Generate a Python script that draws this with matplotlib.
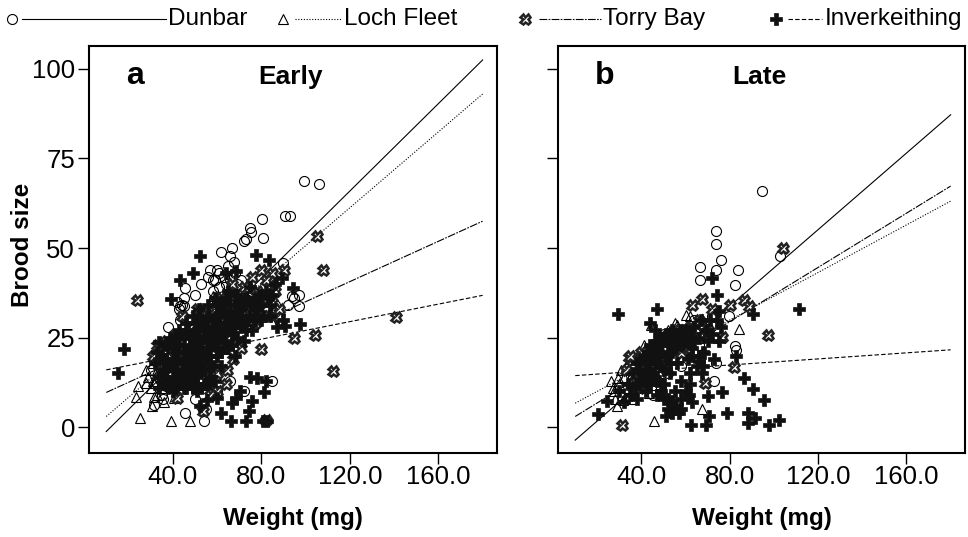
import matplotlib
matplotlib.use("Agg")
import matplotlib.pyplot as plt
from matplotlib.lines import Line2D

plt.rcParams['font.family'] = ['Liberation Sans', 'DejaVu Sans']

sites = ["Dunbar", "Loch Fleet", "Torry Bay", "Inverkeithing"]

# ---------------- Early (panel a) ----------------
early_dunbar_x = [99.5, 105.9, 90.7, 92.8, 80.3, 75.1, 75.6, 73.2, 72.0, 80.9, 62.0, 66.8, 65.7, 67.5, 59.8, 61.0, 58.3, 45.6, 44.9, 43.4, 89.8, 94.0, 97.0, 85.0, 84.8, 54.1, 45.4, 35.7, 31.5, 43.4,
                  30, 33, 35, 37, 38, 40, 42, 43, 44, 45, 46, 47, 48, 50, 52, 53, 55, 56, 57, 58, 59, 60, 61, 63, 64, 65, 66, 67, 68, 69, 70, 71, 72, 74, 75, 76, 78, 80, 82, 84, 86, 88, 92, 95, 97, 50, 55, 60, 66, 72]
early_dunbar_y = [68.8, 67.8, 59.0, 59.0, 58.0, 55.7, 54.5, 52.6, 52.0, 52.9, 49.0, 49.9, 47.8, 46.1, 44.0, 43.1, 41.0, 38.9, 33.8, 33.8, 45.9, 36.6, 33.8, 31.9, 12.8, 1.6, 3.9, 7.8, 6.3, 30.0,
                  16, 12, 9, 14, 28, 20, 35, 33, 34, 36, 26, 12, 30, 37, 22, 40, 32, 42, 44, 38, 41, 35, 39, 42, 40, 45, 41, 38, 43, 40, 37, 41, 36, 39, 33, 38, 35, 37, 33, 36, 34, 30, 34, 36, 37, 8, 5, 10, 13, 10]

early_loch_x = [58.3, 25.3, 39.4, 47.9, 23.3, 24.5, 28.1, 31.5, 30.7, 31.5, 39.0, 40.4,
                29, 30, 31, 32, 33, 34, 35, 36, 37, 38, 39, 40, 41, 42, 43, 44, 45, 46, 47, 48, 49, 50, 52, 53, 55, 57, 58, 60, 62, 64, 66, 68, 70, 72, 31, 28, 33, 36]
early_loch_y = [36.6, 2.5, 1.6, 1.6, 8.4, 11.4, 12.3, 8.4, 5.8, 12.3, 24.4, 8.1,
                14, 11, 18, 13, 16, 19, 11, 22, 15, 20, 24, 17, 13, 22, 26, 16, 20, 24, 14, 27, 19, 22, 17, 26, 21, 24, 19, 28, 22, 26, 30, 24, 33, 28, 13, 16, 9, 7]

early_torry_x = [24.1, 105.1, 107.8, 112.4, 141.1, 104.1, 94.6, 90.3, 79.9, 84.8, 85.8, 79.9, 88.0, 64.7, 67.2, 42.0, 59.8, 53.8, 82.1,
                 31, 33, 35, 37, 39, 41, 43, 44, 46, 48, 50, 51, 53, 55, 56, 58, 59, 61, 62, 63, 65, 66, 67, 68, 70, 71, 72, 73, 75, 76, 77, 78, 79, 81, 82, 83, 85, 86, 88, 44, 48, 55, 60, 64, 57]
early_torry_y = [35.6, 53.5, 43.8, 15.8, 30.8, 25.7, 24.8, 43.8, 44.0, 43.1, 39.4, 21.8, 31.0, 16.0, 19.0, 8.1, 10.0, 4.4, 1.9,
                 20, 23, 17, 24, 15, 26, 19, 31, 22, 28, 24, 33, 19, 31, 23, 27, 33, 22, 36, 29, 25, 33, 40, 28, 35, 22, 39, 31, 34, 42, 29, 38, 33, 36, 41, 31, 35, 38, 33, 13, 16, 16, 15, 12, 9]

early_inv_x = [15.2, 17.8, 52.3, 49.1, 43.4, 39.4, 33.8, 77.6, 83.3, 89.5, 94.3, 97.7, 90.7, 77.9, 82.1, 74.9, 81.3, 70.2, 68.8, 67.0, 76.0, 74.5, 62.0, 66.2, 73.2, 80.8, 82.5, 55.3, 59.8, 52.3, 64.2, 68.7,
               32, 34, 35, 36, 37, 38, 38, 39, 40, 40, 41, 42, 42, 43, 43, 44, 45, 45, 46, 46, 47, 47, 48, 48, 49, 49, 50, 50, 51, 51, 52, 52, 53, 53, 54, 54, 55, 56, 56, 57, 57, 58, 58, 59, 60, 60, 61, 62, 62, 63, 64, 64, 65, 66, 67, 68, 68, 69, 70, 71, 72, 73, 74, 75, 76, 77, 78, 80, 82, 84, 86, 87, 90,
               33, 35, 36, 37, 38, 39, 40, 40, 41, 41, 42, 42, 43, 44, 44, 45, 45, 46, 46, 47, 47, 48, 48, 49, 49, 50, 50, 51, 51, 52, 52, 53, 53, 54, 54, 55, 55, 56, 56, 57, 57, 58, 58, 59, 59, 60, 60, 61, 61, 62, 62, 63, 63, 64, 64, 65, 65, 66, 66, 67, 67, 68, 68, 69, 69, 70, 70, 71, 72, 72, 73, 74, 75, 76, 77, 78, 79, 80, 81, 83, 84, 85,
               34, 36, 38, 39, 41, 43, 45, 47, 49, 51, 53, 55, 57, 59]
early_inv_y = [15.1, 21.8, 47.9, 43.1, 41.0, 35.8, 23.7, 48.2, 46.8, 41.7, 38.9, 28.8, 28.2, 13.7, 12.8, 14.0, 9.7, 10.0, 8.1, 6.7, 7.2, 4.4, 3.9, 1.8, 1.8, 1.8, 1.8, 7.6, 8.1, 5.8, 43.1, 43.6,
               18, 14, 20, 16, 12, 22, 17, 25, 14, 19, 11, 21, 16, 27, 13, 18, 23, 15, 29, 11, 20, 17, 25, 13, 31, 22, 18, 15, 27, 10, 33, 21, 24, 16, 29, 12, 20, 26, 34, 18, 14, 30, 23, 36, 27, 20, 32, 25, 17, 35, 29, 22, 38, 31, 26, 34, 20, 37, 29, 33, 24, 36, 30, 39, 27, 33, 36, 30, 38, 34, 40, 28, 30,
               21, 15, 19, 23, 13, 17, 22, 10, 16, 25, 13, 19, 23, 15, 26, 12, 18, 21, 16, 27, 14, 19, 22, 16, 26, 21, 29, 14, 24, 18, 27, 21, 30, 16, 25, 19, 28, 22, 31, 25, 20, 28, 17, 24, 30, 22, 34, 26, 29, 21, 33, 27, 24, 31, 36, 28, 22, 34, 27, 31, 23, 29, 37, 32, 25, 35, 31, 28, 34, 30, 27, 35, 31, 35, 30, 33, 37, 34, 31, 36, 31, 37,
               11, 12, 11, 12, 11, 12, 11, 12, 11, 12, 11, 12, 12, 13]

# ---------------- Late (panel b) ----------------
late_dunbar_x = [94.7, 73.9, 73.6, 76.1, 66.4, 73.6, 66.4, 83.9, 82.3, 102.6, 79.6, 67.6, 82.4, 83.0, 73.6, 72.9, 48.7, 51.0,
                 36, 38, 40, 42, 44, 46, 48, 50, 52, 54, 56, 58, 60, 62, 64, 66, 68, 70, 72, 74, 45, 50]
late_dunbar_y = [65.8, 54.8, 51.0, 46.8, 44.8, 44.0, 41.0, 44.0, 39.8, 47.8, 31.0, 24.9, 22.8, 21.5, 17.9, 12.8, 10.9, 22.1,
                 14, 19, 11, 16, 21, 13, 18, 22, 15, 19, 24, 17, 21, 26, 30, 23, 28, 26, 31, 25, 9, 26]

late_loch_x = [44.2, 45.7, 84.2, 67.2, 60.0, 56.3, 29.2, 31.7, 27.7, 30.7, 42.0, 43.5,
               30, 31, 32, 33, 34, 35, 36, 37, 38, 40, 41, 42, 44, 46, 48, 50, 52, 55, 58, 60, 62, 28, 27, 29, 26]
late_loch_y = [28.6, 1.6, 27.4, 5.0, 31.4, 28.6, 13.7, 7.6, 10.0, 16.0, 22.0, 9.5,
               12, 9, 14, 17, 11, 19, 8, 15, 20, 16, 23, 13, 18, 22, 15, 24, 27, 29, 25, 28, 31, 8, 11, 6, 13]

late_torry_x = [31.4, 104.0, 97.4, 86.4, 80.1, 88.6, 62.7, 67.6, 68.8, 81.9, 35.9, 34.5, 57.8, 76.6,
                33, 35, 36, 38, 40, 42, 45, 48, 50, 52, 55, 57, 60, 62, 64, 66, 70, 72, 46, 39]
late_torry_y = [0.7, 49.9, 25.8, 35.6, 34.2, 33.8, 34.2, 35.8, 12.3, 16.7, 18.8, 19.6, 20.7, 25.1,
                16, 20, 12, 15, 21, 17, 13, 22, 18, 26, 24, 27, 22, 28, 25, 30, 27, 33, 20, 11]

late_inv_x = [29.2, 47.2, 111.2, 71.8, 74.0, 75.1, 90.6, 20.1, 24.6, 51.0, 53.7, 55.0, 57.0, 62.3, 69.4, 70.6, 67.6, 70.3, 76.6, 78.6, 86.4, 90.6, 95.4, 88.3, 88.3, 91.6, 97.6, 102.2, 82.6, 66.0, 61.5, 68.3,
              30, 32, 34, 35, 36, 37, 38, 38, 40, 41, 42, 43, 44, 44, 45, 46, 47, 47, 48, 49, 50, 51, 52, 53, 54, 55, 55, 56, 57, 58, 58, 59, 60, 61, 62, 63, 64, 65, 66, 67, 68, 69, 70, 71, 72, 73, 74, 75, 76, 44, 46, 49, 52, 54, 60, 63,
              38, 39, 40, 41, 42, 43, 43, 44, 45, 45, 46, 47, 47, 48, 49, 50, 50, 51, 52, 53, 53, 54, 55, 56, 57, 58, 59, 60, 61, 62, 63, 64, 66, 68, 50, 52, 55, 58, 62]
late_inv_y = [31.7, 33.0, 33.0, 41.7, 36.8, 32.4, 31.7, 3.7, 7.2, 3.0, 7.2, 5.8, 3.9, 0.7, 0.7, 3.0, 15.1, 8.8, 9.8, 3.9, 13.7, 10.6, 7.6, 3.9, 1.1, 2.5, 0.7, 1.9, 19.8, 18.4, 9.0, 20.7,
              10, 7, 12, 9, 15, 11, 18, 8, 13, 20, 10, 16, 23, 12, 19, 14, 21, 9, 25, 17, 12, 26, 20, 15, 27, 22, 6, 18, 26, 13, 5, 23, 27, 19, 15, 22, 28, 17, 25, 30, 21, 27, 24, 30, 26, 19, 30, 24, 28, 29, 27, 10, 8, 4, 10, 7,
              12, 16, 19, 14, 18, 21, 13, 16, 22, 15, 18, 24, 13, 20, 23, 16, 25, 20, 24, 18, 26, 22, 25, 26, 23, 27, 26, 24, 26, 25, 20, 24, 20, 17, 8, 5, 10, 8, 12]

# regression lines: values at the two ends of line_x
line_x = [10, 180]
early_lines = {"Dunbar": [-1.2, 102.5], "Loch Fleet": [3.0, 93.0], "Torry Bay": [9.7, 57.5], "Inverkeithing": [16.0, 36.8]}
late_lines = {"Dunbar": [-3.6, 87.2], "Loch Fleet": [6.7, 63.1], "Torry Bay": [3.0, 67.3], "Inverkeithing": [14.4, 21.6]}

x_ticks = [40, 80, 120, 160]
x_ticklabels = ["40.0", "80.0", "120.0", "160.0"]
y_ticks = [0, 25, 50, 75, 100]

marker_style = {
    "Dunbar": dict(marker='o', mfc='none', mec='black', ms=7.2, mew=0.8),
    "Loch Fleet": dict(marker='^', mfc='none', mec='black', ms=7.5, mew=0.8),
    "Torry Bay": dict(marker='X', mfc='white', mec='#222222', ms=7.2, mew=1.8),
    "Inverkeithing": dict(marker='P', mfc='#111111', mec='#111111', ms=8.0, mew=0.5),
}
line_style = {
    "Dunbar": dict(ls='-', lw=0.8),
    "Loch Fleet": dict(ls=(0, (1, 1.5)), lw=0.8),
    "Torry Bay": dict(ls=(0, (7, 1.2, 1.5, 1.2)), lw=0.8),
    "Inverkeithing": dict(ls=(0, (4, 2)), lw=0.8),
}

fig = plt.figure(figsize=(9.68, 5.37), dpi=100)
W, H = 968, 537
ax_a = fig.add_axes([89 / W, 1 - 453 / H, (497 - 89) / W, (453 - 46) / H])
ax_b = fig.add_axes([558 / W, 1 - 453 / H, (965 - 558) / W, (453 - 46) / H])

early = {"Dunbar": (early_dunbar_x, early_dunbar_y), "Loch Fleet": (early_loch_x, early_loch_y),
         "Torry Bay": (early_torry_x, early_torry_y), "Inverkeithing": (early_inv_x, early_inv_y)}
late = {"Dunbar": (late_dunbar_x, late_dunbar_y), "Loch Fleet": (late_loch_x, late_loch_y),
        "Torry Bay": (late_torry_x, late_torry_y), "Inverkeithing": (late_inv_x, late_inv_y)}

tick_font = 18.5
for ax, data, lines, letter, title in [(ax_a, early, early_lines, "a", "Early"), (ax_b, late, late_lines, "b", "Late")]:
    for s in sites:
        ax.plot(line_x, lines[s], color='black', zorder=1, **line_style[s])
    for s in sites:
        x, y = data[s]
        ax.plot(x, y, ls='none', zorder=2, **marker_style[s])
    ax.set_xlim(2.2, 186.5)
    ax.set_ylim(-7.2, 106.4)
    ax.set_xticks(x_ticks)
    ax.set_xticklabels(x_ticklabels)
    ax.set_yticks(y_ticks)
    ax.tick_params(axis='both', direction='out', length=8, width=1.0, labelsize=tick_font, pad=2)
    ax.tick_params(axis='x', pad=0.5)
    for sp in ax.spines.values():
        sp.set_linewidth(1.5)
    ax.set_xlabel("Weight (mg)", fontsize=17.5, fontweight='bold', labelpad=13)
    ax.text(23.2, 95.8, letter, fontsize=23, fontweight='bold', ha='center', va='baseline')
    ax.text(93.3, 95.8, title, fontsize=19, fontweight='bold', ha='center', va='baseline')

ax_b.set_yticklabels([])
fig.text(23 / W, 1 - 245 / H, "Brood size", rotation=90, fontsize=17.5, fontweight='bold',
         ha='center', va='center')

# legend across the top
ly = 1 - 19 / H
leg = [("Dunbar", 12, 22, 166, 168), ("Loch Fleet", 283, 295, 341, 344),
       ("Torry Bay", 525, 539, 601, 603), ("Inverkeithing", 776, 788, 822, 825)]
for s, mx, l1, l2, tx in leg:
    fig.add_artist(Line2D([l1 / W, l2 / W], [ly, ly], color='black', transform=fig.transFigure, **line_style[s]))
    fig.add_artist(Line2D([mx / W], [ly], ls='none', transform=fig.transFigure, **marker_style[s]))
    fig.text(tx / W, ly, s, fontsize=17.5, ha='left', va='center')

fig.savefig("out.png", dpi=100)
